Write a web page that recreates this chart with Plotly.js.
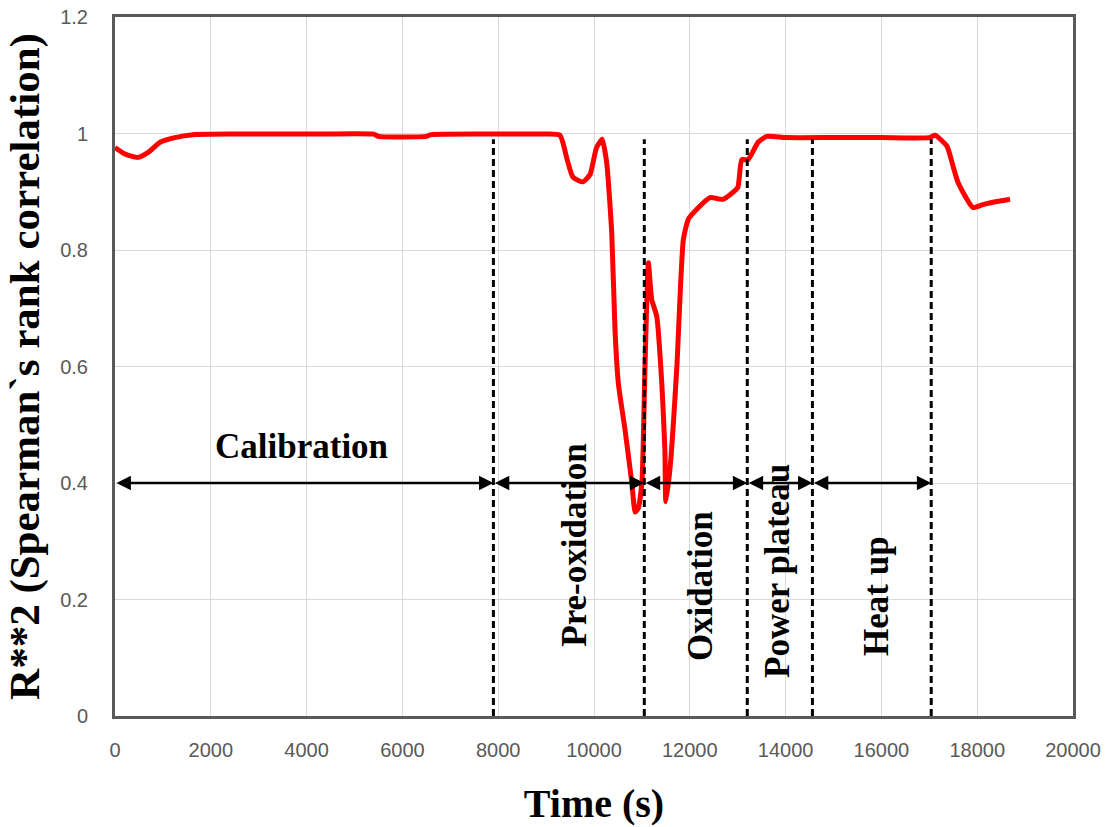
<!DOCTYPE html>
<html>
<head>
<meta charset="utf-8">
<script src="https://cdn.plot.ly/plotly-3.0.1.min.js"></script>
<style>
  html, body { margin: 0; padding: 0; background: #ffffff; }
  #chart { width: 1109px; height: 827px; }
</style>
</head>
<body>
<div id="chart"></div>
<script>
// Time (s)
const timeS = [0, 200, 480, 700, 940, 1250, 1630, 2500, 4000, 5400, 5500, 6500, 6600, 8000, 9000,
  9290, 9440, 9560, 9770, 9920, 10050, 10170, 10265, 10370, 10440, 10510, 10650, 10790, 10860,
  10925, 11000, 11065, 11135, 11205, 11310, 11415, 11480, 11500, 11590, 11730, 11865, 11970,
  12145, 12420, 12690, 12900, 13005, 13085, 13215, 13425, 13605, 14000, 15000, 16000, 17000,
  17120, 17370, 17495, 17600, 17910, 18120, 18475, 18685];
// R**2 (Spearman's rank correlation)
const r2 = [0.976, 0.965, 0.959, 0.968, 0.985, 0.993, 0.998, 0.999, 0.999, 0.999, 0.995, 0.995, 0.998, 0.999, 0.999,
  0.997, 0.955, 0.925, 0.917, 0.930, 0.975, 0.990, 0.950, 0.830, 0.660, 0.570, 0.490, 0.400, 0.350,
  0.357, 0.400, 0.600, 0.778, 0.715, 0.686, 0.572, 0.457, 0.368, 0.428, 0.600, 0.818, 0.853,
  0.870, 0.890, 0.887, 0.899, 0.908, 0.955, 0.955, 0.985, 0.995, 0.993, 0.993, 0.993, 0.993,
  0.997, 0.978, 0.944, 0.916, 0.873, 0.878, 0.884, 0.887];

// Phase boundaries (s) and names
const phaseBounds = [0, 7900, 11050, 13200, 14560, 17040];
const phaseNames = ["Calibration", "Pre-oxidation", "Oxidation", "Power plateau", "Heat up"];
const arrowLevel = 0.4;
const dashTop = 0.99;

const xTicks = [0, 2000, 4000, 6000, 8000, 10000, 12000, 14000, 16000, 18000, 20000];
const yTicks = [0, 0.2, 0.4, 0.6, 0.8, 1, 1.2];

const serif = "Liberation Serif, Times New Roman, serif";

const shapes = phaseBounds.slice(1).map(b => ({
  type: "line", xref: "x", yref: "y", x0: b, x1: b, y0: 0, y1: dashTop,
  line: {color: "#000000", width: 3, dash: "7px,4px"}, layer: "above"
}));

const annotations = [];
for (let i = 0; i < phaseNames.length; i++) {
  annotations.push({
    xref: "x", yref: "y", axref: "x", ayref: "y",
    x: phaseBounds[i + 1], y: arrowLevel, ax: phaseBounds[i], ay: arrowLevel,
    text: "", showarrow: true, arrowside: "end+start",
    arrowhead: 2, startarrowhead: 2, arrowsize: 1.15, startarrowsize: 1.15,
    arrowwidth: 2.5, arrowcolor: "#000000", standoff: 0, startstandoff: 0
  });
}
// Phase labels
const labelPos = [
  {x: 3883, y: 0.462, a: 0},
  {x: 9603, y: 0.294, a: -90},
  {x: 12213, y: 0.223, a: -90},
  {x: 13841, y: 0.249, a: -90},
  {x: 15887, y: 0.206, a: -90}
];
phaseNames.forEach((n, i) => {
  annotations.push({
    xref: "x", yref: "y", x: labelPos[i].x, y: labelPos[i].y,
    text: "<b>" + n + "</b>", showarrow: false, textangle: labelPos[i].a,
    xanchor: "center", yanchor: "middle",
    font: {family: serif, size: 35, color: "#000000"}
  });
});

const trace = {
  x: timeS, y: r2, type: "scatter", mode: "lines",
  line: {color: "#ff0000", width: 5, shape: "spline", smoothing: 0.5},
  hoverinfo: "x+y"
};

const layout = {
  width: 1109, height: 827,
  margin: {l: 115, r: 36, t: 17, b: 111, pad: 0},
  paper_bgcolor: "#ffffff", plot_bgcolor: "#ffffff",
  showlegend: false,
  font: {family: "Liberation Sans, Arial, sans-serif", color: "#595959"},
  xaxis: {
    range: [0, 20000], tickvals: xTicks, ticktext: xTicks.map(String),
    showgrid: true, gridcolor: "#d9d9d9", gridwidth: 1, zeroline: false,
    showline: true, linecolor: "#595959", linewidth: 3, mirror: true,
    ticks: "outside", ticklen: 14, tickcolor: "rgba(0,0,0,0)",
    tickfont: {size: 20, color: "#595959"},
    title: {text: "<b>Time (s)</b>", font: {family: serif, size: 40, color: "#000000"}, standoff: 29}
  },
  yaxis: {
    range: [0, 1.2], tickvals: yTicks, ticktext: yTicks.map(String),
    showgrid: true, gridcolor: "#d9d9d9", gridwidth: 1, zeroline: false,
    showline: true, linecolor: "#595959", linewidth: 3, mirror: true,
    ticks: "outside", ticklen: 20, tickcolor: "rgba(0,0,0,0)",
    tickfont: {size: 20, color: "#595959"},
    title: {text: "<b>R**2 (Spearman`s rank correlation)</b>", font: {family: serif, size: 43, color: "#000000"}, standoff: 8}
  },
  shapes: shapes,
  annotations: annotations
};

Plotly.newPlot("chart", [trace], layout, {displayModeBar: false, staticPlot: true});
</script>
</body>
</html>
